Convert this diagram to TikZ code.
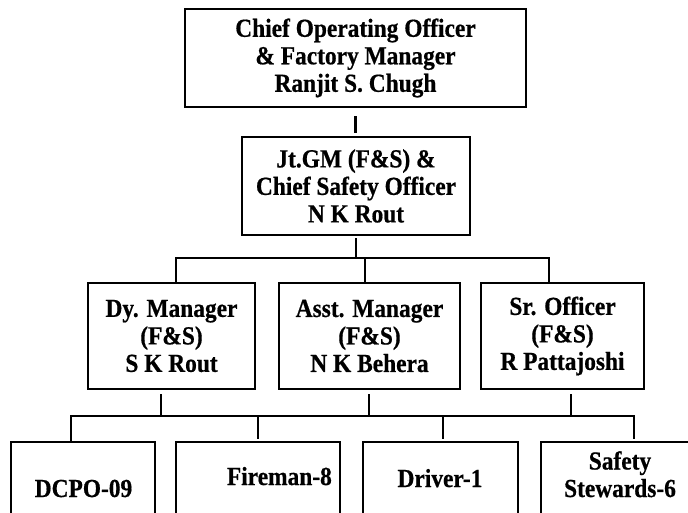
\documentclass[tikz,border=0pt]{standalone}
\usepackage{fontspec}
\setmainfont{Liberation Serif}[BoldFeatures={FakeStretch=0.9,FakeBold=0.6}]
\begin{document}
\begin{tikzpicture}[x=1pt,y=-1pt,
  txt/.style={font=\bfseries\fontsize{26}{27.5}\selectfont},
  box/.style={draw, line width=2.3pt, inner sep=0pt, align=center, txt},
  lbl/.style={inner sep=0pt, txt},
  wire/.style={line width=2.4pt}]
\useasboundingbox (0,0) rectangle (688,512);
\begin{scope}
\clip (0,0) rectangle (688,512);

% management tiers
\node[box, minimum width=341, minimum height=98] (coo) at (355.5,58)
  {Chief Operating Officer\\ \& Factory Manager\\ Ranjit S. Chugh};
\node[box, minimum width=228, minimum height=98] (jt) at (356,186)
  {Jt.GM (F\&S) \&\\ Chief Safety Officer\\ N K Rout};
\node[box, minimum width=167, minimum height=106] (dy) at (171.5,336)
  {Dy. Manager\\ (F\&S)\\ S K Rout};
\node[box, minimum width=181, minimum height=106] (asst) at (369.5,336)
  {Asst. Manager\\ (F\&S)\\ N K Behera};
\node[box, minimum width=163, minimum height=106] (sr) at (562.5,336)
  {Sr. Officer\\ (F\&S)\\ R Pattajoshi};

% staff boxes (running off the lower edge)
\node[box, minimum width=144, minimum height=100, anchor=north] (dcpo) at (83,441) {};
\node[box, minimum width=164, minimum height=100, anchor=north] (fire) at (258,441) {};
\node[box, minimum width=155, minimum height=100, anchor=north] (driver) at (440.5,441) {};
\node[box, minimum width=156, minimum height=100, anchor=north] (safety) at (619,441) {};

\node[lbl, anchor=base] (dcpoT) at (83.5,497) {DCPO-09};
\node[lbl, anchor=base east] (fireT) at (332,485) {Fireman-8};
\node[lbl, anchor=base] (driverT) at (440,487) {Driver-1};
\node[lbl, align=center, anchor=base] (safetyT) at (620,497) {Safety\\ Stewards-6};

% junction points
\coordinate (busA) at (176,258);
\coordinate (busB) at (549,258);
\coordinate (dropM) at (365,258);
\coordinate (bus2A) at (71,416);
\coordinate (bus2B) at (634,416);
\coordinate (j1) at (161,416);
\coordinate (j2) at (369,416);
\coordinate (j3) at (571,416);
\coordinate (k1) at (258,416);
\coordinate (k2) at (443,416);

% connectors
\draw[wire, shorten <=8pt, shorten >=3pt] (coo.south) -- (coo.south |- jt.north);
\draw[wire, shorten <=2pt] (jt.south) -- (jt.south |- busA);
\draw[wire] (dy.north -| busA) -- (busA) -- (busB) -- (sr.north -| busB);
\draw[wire] (dropM) -- (asst.north -| dropM);

\draw[wire, shorten <=4pt] (dy.south -| j1) -- (j1);
\draw[wire, shorten <=4pt] (asst.south -| j2) -- (j2);
\draw[wire, shorten <=4pt] (sr.south -| j3) -- (j3);
\draw[wire, shorten >=2pt] (dcpo.north -| bus2A) -- (bus2A) -- (bus2B) -- (safety.north -| bus2B);
\draw[wire, shorten >=2pt] (k1) -- (fire.north -| k1);
\draw[wire, shorten >=2pt] (k2) -- (driver.north -| k2);
\end{scope}
\end{tikzpicture}
\end{document}
